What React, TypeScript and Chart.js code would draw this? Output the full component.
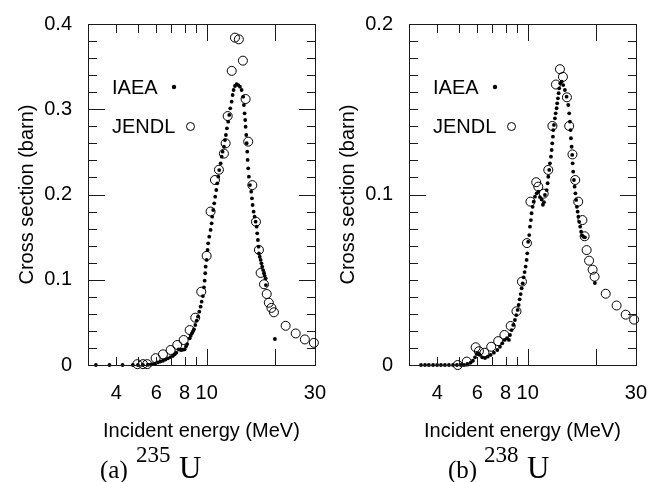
import React, { useEffect, useRef } from "react";
import { Chart, registerables } from "chart.js";

Chart.register(...registerables);

// ---------- (a) 235U ----------
const u235IaeaEnergy = [
  3.25, 3.73, 4.26, 4.73, 4.98, 5.24, 5.51, 5.66, 5.8, 5.95, 6.1, 6.26, 6.42, 6.59, 6.75, 6.93,
  7.1, 7.23, 7.35, 7.53, 7.63, 7.73, 7.86, 8.0, 8.11, 8.21, 8.42, 8.51, 8.61, 8.7, 8.79, 8.91,
  9.04, 9.16, 9.28, 9.41, 9.51, 9.63, 9.73, 9.8, 9.86, 9.9, 10.0, 10.1, 10.16, 10.27, 10.41,
  10.52, 10.58, 10.69, 10.8, 10.91, 11.03, 11.14, 11.25, 11.36, 11.53, 11.65, 11.76, 11.92,
  12.04, 12.16, 12.29, 12.45, 12.58, 12.71, 12.89, 13.02, 13.15, 13.33, 13.56, 13.78, 14.02,
  14.26, 14.49, 14.6, 14.7, 14.79, 14.85, 14.95, 15.01, 15.1, 15.16, 15.25, 15.36, 15.52, 15.72,
  15.84, 15.95, 16.11, 16.27, 16.44, 16.61, 16.71, 16.83, 16.95, 17.0, 17.14, 17.3, 17.44,
  17.58, 17.74, 17.89, 18.03, 18.2, 18.25, 20.0,
];
const u235IaeaSigma = [
  0, 0, 0, 0, 0, 0, 0.0003, 0.0005, 0.001, 0.002, 0.003, 0.004, 0.005, 0.0064, 0.0078, 0.0092,
  0.0106, 0.0125, 0.0144, 0.0184, 0.018, 0.0176, 0.018, 0.0184, 0.0217, 0.0246, 0.0313, 0.0343,
  0.0372, 0.0395, 0.0419, 0.0469, 0.052, 0.0567, 0.0625, 0.0684, 0.0743, 0.0809, 0.0911, 0.0989,
  0.1076, 0.1153, 0.1232, 0.1349, 0.1427, 0.1505, 0.1584, 0.1662, 0.174, 0.1818, 0.1897, 0.1975,
  0.2053, 0.2131, 0.2209, 0.2287, 0.2366, 0.2444, 0.2502, 0.2561, 0.2639, 0.2698, 0.2776,
  0.2854, 0.2933, 0.3011, 0.3089, 0.3167, 0.3226, 0.3273, 0.3293, 0.3284, 0.3265, 0.3226,
  0.3147, 0.305, 0.2952, 0.2874, 0.2795, 0.2698, 0.2601, 0.2502, 0.2405, 0.2307, 0.2209, 0.2111,
  0.2033, 0.1955, 0.1877, 0.1798, 0.174, 0.1681, 0.1622, 0.1545, 0.1466, 0.1388, 0.131, 0.127,
  0.1232, 0.1193, 0.1153, 0.1114, 0.1076, 0.1046, 0.1017, 0.0938, 0.0305,
];
const u235JendlEnergy = [
  4.95, 5.24, 5.47, 5.96, 6.42, 6.94, 7.42, 7.92, 8.42, 8.91, 9.47, 10.0, 10.41, 10.88, 11.33,
  11.92, 12.13, 12.38, 12.9, 13.33, 13.87, 14.45, 14.85, 15.25, 15.9, 16.5, 17.0, 17.3, 17.9,
  18.4, 18.8, 19.3, 19.8, 22.3, 24.7, 27.1, 29.7,
];
const u235JendlSigma = [
  0.001, 0.001, 0.001, 0.008, 0.0125, 0.0176, 0.0235, 0.0293, 0.041, 0.0555, 0.086, 0.128, 0.18,
  0.217, 0.229, 0.248, 0.26, 0.292, 0.345, 0.384, 0.382, 0.357, 0.312, 0.262, 0.211, 0.168,
  0.135, 0.108, 0.0947, 0.0833, 0.073, 0.067, 0.0618, 0.046, 0.037, 0.03, 0.026,
];

// ---------- (b) 238U ----------
const u238IaeaEnergy = [
  3.39, 3.53, 3.67, 3.83, 3.99, 4.15, 4.32, 4.5, 4.69, 4.88, 5.08, 5.24, 5.42, 5.61, 5.74, 5.86,
  5.96, 6.06, 6.16, 6.31, 6.49, 6.67, 6.87, 7.1, 7.35, 7.55, 7.73, 7.92, 8.11, 8.27, 8.36, 8.5,
  8.64, 8.79, 8.91, 9.04, 9.13, 9.22, 9.32, 9.41, 9.51, 9.6, 9.7, 9.8, 9.9, 9.96, 10.06, 10.16,
  10.24, 10.34, 10.41, 10.52, 10.63, 10.77, 10.96, 11.14, 11.33, 11.53, 11.68, 11.8, 11.92,
  12.13, 12.25, 12.33, 12.45, 12.54, 12.67, 12.76, 12.84, 12.93, 12.97, 13.06, 13.19, 13.29,
  13.42, 13.5, 13.6, 13.7, 13.78, 13.92, 14.12, 14.35, 14.6, 14.85, 15.1, 15.25, 15.36, 15.47,
  15.52, 15.63, 15.72, 15.79, 15.88, 16.0, 16.11, 16.24, 16.37, 16.49, 16.61, 16.74, 16.88,
  17.05, 17.21, 17.4, 17.62, 17.89, 19.79,
];
const u238IaeaSigma = [
  0, 0, 0, 0, 0, 0, 0, 0, 0, 0, 0, 0, 0.0006, 0.0014, 0.0025, 0.0045, 0.0065, 0.0069, 0.0059,
  0.0045, 0.0041, 0.0049, 0.0059, 0.0072, 0.0088, 0.0107, 0.0127, 0.0147, 0.0157, 0.0147, 0.0176,
  0.0205, 0.0235, 0.0264, 0.0293, 0.0323, 0.0352, 0.0385, 0.0416, 0.045, 0.0479, 0.0514, 0.0545,
  0.0577, 0.0616, 0.0655, 0.0723, 0.0762, 0.0811, 0.085, 0.089, 0.0928, 0.0958, 0.0987, 0.1007,
  0.1016, 0.0985, 0.097, 0.094, 0.0955, 0.0997, 0.1026, 0.1066, 0.1104, 0.1144, 0.1183, 0.1222,
  0.1261, 0.13, 0.1339, 0.1378, 0.1408, 0.1447, 0.1476, 0.1506, 0.1535, 0.1564, 0.1594, 0.1623,
  0.1652, 0.1662, 0.1642, 0.1613, 0.1574, 0.1525, 0.1476, 0.1427, 0.1378, 0.133, 0.128, 0.1232,
  0.1183, 0.1134, 0.1085, 0.1046, 0.1007, 0.0968, 0.0928, 0.0899, 0.087, 0.084, 0.0811, 0.0782,
  0.076, 0.0752, 0.0749, 0.0481,
];
const u238JendlEnergy = [
  4.92, 5.39, 5.9, 6.1, 6.45, 6.91, 7.42, 7.9, 8.42, 8.93, 9.44, 9.93, 10.29, 10.91, 11.14, 11.77,
  12.33, 12.86, 13.33, 13.88, 14.31, 14.9, 15.25, 15.76, 16.21, 16.71, 17.44, 17.83, 18.2, 18.66,
  19.34, 19.73, 22.09, 24.67, 27.05, 29.46,
];
const u238JendlSigma = [
  0, 0.002, 0.0104, 0.0081, 0.0072, 0.0107, 0.014, 0.0176, 0.0229, 0.0315, 0.0489, 0.0715,
  0.0958, 0.1072, 0.1046, 0.1005, 0.1144, 0.1402, 0.1645, 0.1735, 0.169, 0.157, 0.1402, 0.1235,
  0.1085, 0.0958, 0.085, 0.0755, 0.0674, 0.0612, 0.0559, 0.0518, 0.0418, 0.0349, 0.0295, 0.0266,
];

// ---------- axes ----------
const xMin = 3;
const xMax = 30;
const xTickLabels = [4, 6, 8, 10, 30];
const xMinorTicks = [4, 5, 6, 7, 8, 9];
const xMajorTicks = [10, 20];
const u235YTicks = [0, 0.1, 0.2, 0.3, 0.4];
const u238YTicks = [0, 0.1, 0.2];

const FONT = '"Liberation Sans", Arial, Helvetica, sans-serif';
const SERIF = '"Liberation Serif", "Times New Roman", serif';

type PanelProps = {
  id: string;
  left: number;
  width: number;
  axisWidth: number;
  titlePad: number;
  captionX: number;
  tag: string;
  mass: string;
  iaeaE: number[];
  iaeaV: number[];
  jendlE: number[];
  jendlV: number[];
  yTicks: number[];
  yMinorStep: number;
};

function Panel(p: PanelProps) {
  const ref = useRef<HTMLCanvasElement>(null);
  useEffect(() => {
    const pts = (e: number[], v: number[]) => e.map((x, i) => ({ x, y: v[i] }));
    const yMax = p.yTicks[p.yTicks.length - 1];
    const yMinorStep = p.yMinorStep;
    const perMajor = Math.round(0.1 / yMinorStep);
    const drawFrame = (chart: any) => {
      const ctx = chart.ctx as CanvasRenderingContext2D;
      const xs = chart.scales["x"];
      const ys = chart.scales["y"];
      const L = Math.round(Number(xs.getPixelForValue(xMin)));
      const R = Math.round(Number(xs.getPixelForValue(xMax)));
      const T = Math.round(Number(ys.getPixelForValue(yMax)));
      const B = Math.round(Number(ys.getPixelForValue(0)));
      ctx.save();
      ctx.fillStyle = "#1a1a1a";
      ctx.fillRect(L, T, R - L + 1, 1);
      ctx.fillRect(L, B, R - L + 1, 1);
      ctx.fillRect(L, T, 1, B - T + 1);
      ctx.fillRect(R, T, 1, B - T + 1);
      const xt = (v: number, len: number) => {
        const px = Math.round(Number(xs.getPixelForValue(v)));
        ctx.fillRect(px, B - len + 1, 1, len);
        ctx.fillRect(px, T, 1, len);
      };
      xMinorTicks.forEach((v) => xt(v, 9));
      xMajorTicks.forEach((v) => xt(v, 17));
      const n = Math.round(yMax / yMinorStep);
      for (let i = 1; i < n; i++) {
        const py = Math.round(Number(ys.getPixelForValue(i * yMinorStep)));
        const len = i % perMajor === 0 ? 17 : 9;
        ctx.fillRect(L, py, len, 1);
        ctx.fillRect(R - len + 1, py, len, 1);
      }
      ctx.restore();
    };
    const frame = {
      id: "frame" + p.id,
      beforeDatasetsDraw(chart: any) {
        drawFrame(chart);
      },
      afterDraw(chart: any) {
        drawFrame(chart);
      },
    };
    const notes = {
      id: "notes" + p.id,
      afterDraw(chart: any) {
        const ctx = chart.ctx as CanvasRenderingContext2D;
        const L = Math.round(Number(chart.scales["x"].getPixelForValue(xMin)));
        ctx.save();
        ctx.fillStyle = "#000";
        ctx.strokeStyle = "#000";
        ctx.lineWidth = 1;
        ctx.textBaseline = "alphabetic";
        ctx.textAlign = "left";
        // legend
        ctx.font = `20px ${FONT}`;
        ctx.fillText("IAEA", L + 24, 94);
        ctx.fillText("JENDL", L + 24, 133);
        ctx.beginPath();
        ctx.arc(L + 86, 87, 2.2, 0, Math.PI * 2);
        ctx.fill();
        ctx.beginPath();
        ctx.arc(L + 102.5, 126.5, 4, 0, Math.PI * 2);
        ctx.stroke();
        // caption
        const cx = p.captionX;
        ctx.font = `25px ${SERIF}`;
        ctx.fillText(p.tag, cx, 478);
        ctx.font = `23px ${SERIF}`;
        ctx.fillText(p.mass, cx + 36, 462);
        ctx.font = `31px ${SERIF}`;
        ctx.fillText("U", cx + 79, 478);
        ctx.restore();
      },
    };
    const chart = new Chart(ref.current as HTMLCanvasElement, {
      type: "scatter",
      data: {
        datasets: [
          {
            label: "JENDL",
            data: pts(p.jendlE, p.jendlV),
            pointRadius: 4.5,
            backgroundColor: "rgba(0,0,0,0)",
            pointBackgroundColor: "rgba(0,0,0,0)",
            borderColor: "#000",
            pointBorderColor: "#000",
            pointBorderWidth: 1,
            borderWidth: 1,
            clip: false,
          } as any,
          {
            label: "IAEA",
            data: pts(p.iaeaE, p.iaeaV),
            pointRadius: 1.9,
            backgroundColor: "#000",
            pointBackgroundColor: "#000",
            pointBorderWidth: 0,
            borderWidth: 0,
            clip: false,
          } as any,
        ],
      },
      options: {
        responsive: false,
        animation: false,
        devicePixelRatio: 1,
        events: [],
        layout: { padding: { left: 0, right: 0, top: 24, bottom: 37 }, autoPadding: false },
        plugins: { legend: { display: false }, tooltip: { enabled: false } },
        scales: {
          x: {
            type: "logarithmic",
            min: xMin,
            max: xMax,
            grid: {
              display: true,
              drawOnChartArea: false,
              drawTicks: true,
              tickLength: 13,
              color: "rgba(0,0,0,0)",
              tickColor: "rgba(0,0,0,0)",
            },
            border: { display: false },
            afterBuildTicks: (s: any) => {
              s.ticks = xTickLabels.map((v) => ({ value: v }));
            },
            afterFit: (s: any) => {
              s.height = 80;
            },
            ticks: {
              autoSkip: false,
              maxRotation: 0,
              minRotation: 0,
              padding: 3,
              color: "#000",
              font: { family: FONT, size: 20 },
              callback: (v: any) => String(v),
            },
            title: {
              display: true,
              text: "Incident energy (MeV)",
              color: "#000",
              font: { family: FONT, size: 20 },
              padding: { top: 0, bottom: 2 },
            },
          } as any,
          y: {
            type: "linear",
            min: 0,
            max: yMax,
            grid: { display: false },
            border: { display: false },
            afterBuildTicks: (s: any) => {
              s.ticks = p.yTicks.map((v) => ({ value: v }));
            },
            afterFit: (s: any) => {
              s.width = p.axisWidth;
            },
            ticks: {
              padding: 8,
              color: "#000",
              font: { family: FONT, size: 20 },
              callback: (v: any) => (Number(v) === 0 ? "0" : Number(v).toFixed(1)),
            },
            title: {
              display: true,
              text: "Cross section (barn)",
              color: "#000",
              font: { family: FONT, size: 20 },
              padding: { top: p.titlePad, bottom: 0 },
            },
          } as any,
        },
      },
      plugins: [frame, notes],
    });
    return () => chart.destroy();
  }, []);
  return (
    <canvas
      ref={ref}
      width={p.width}
      height={482}
      style={{ position: "absolute", left: p.left, top: 0, width: p.width, height: 482 }}
    />
  );
}

export default function App() {
  return (
    <div style={{ position: "absolute", left: 0, top: 0, width: 656, height: 482, background: "#fff" }}>
      <Panel
        id="a"
        left={0}
        width={329}
        axisWidth={88}
        titlePad={15}
        captionX={100}
        tag="(a)"
        mass="235"
        iaeaE={u235IaeaEnergy}
        iaeaV={u235IaeaSigma}
        jendlE={u235JendlEnergy}
        jendlV={u235JendlSigma}
        yTicks={u235YTicks}
        yMinorStep={0.02}
      />
      <Panel
        id="b"
        left={329}
        width={321}
        axisWidth={80}
        titlePad={7}
        captionX={119}
        tag="(b)"
        mass="238"
        iaeaE={u238IaeaEnergy}
        iaeaV={u238IaeaSigma}
        jendlE={u238JendlEnergy}
        jendlV={u238JendlSigma}
        yTicks={u238YTicks}
        yMinorStep={0.01}
      />
    </div>
  );
}
